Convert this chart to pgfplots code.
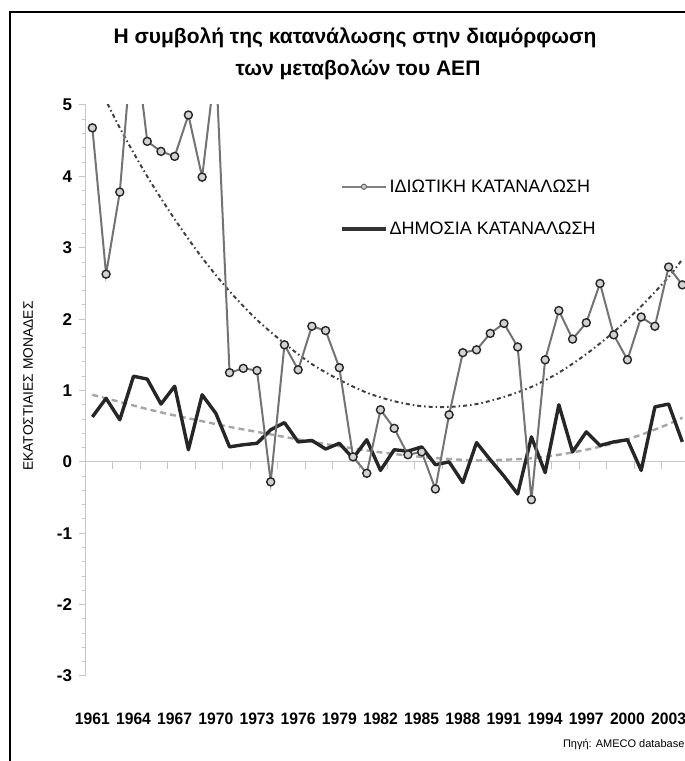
\documentclass[border=0pt]{standalone}
\usepackage{fontspec}
\setmainfont{Liberation Sans}
\newfontfamily\narrowfont{Liberation Sans}[FakeStretch=0.95]
\usepackage{pgfplots}
\usepackage{pgfplotstable}
\pgfplotsset{compat=1.18}

\pgfplotstableread{
year priv gov
1961 4.68 0.63
1962 2.63 0.89
1963 3.78 0.59
1964 6.10 1.20
1965 4.49 1.16
1966 4.35 0.81
1967 4.28 1.06
1968 4.86 0.17
1969 3.99 0.94
1970 5.60 0.68
1971 1.25 0.21
1972 1.31 0.24
1973 1.28 0.26
1974 -0.28 0.45
1975 1.64 0.55
1976 1.29 0.28
1977 1.90 0.30
1978 1.84 0.18
1979 1.32 0.26
1980 0.07 0.05
1981 -0.16 0.31
1982 0.73 -0.12
1983 0.47 0.17
1984 0.10 0.15
1985 0.14 0.21
1986 -0.38 -0.04
1987 0.66 0.00
1988 1.53 -0.29
1989 1.57 0.27
1990 1.80 0.03
1991 1.94 -0.20
1992 1.61 -0.45
1993 -0.53 0.35
1994 1.43 -0.15
1995 2.12 0.80
1996 1.72 0.14
1997 1.95 0.42
1998 2.50 0.23
1999 1.78 0.28
2000 1.43 0.31
2001 2.03 -0.12
2002 1.90 0.77
2003 2.73 0.81
2004 2.48 0.28
}\datatable

\pgfplotstableread{
year ptrend gtrend
1961 5.45 0.94
1963 4.68 0.84
1965 4.00 0.74
1967 3.40 0.65
1969 2.86 0.57
1971 2.39 0.49
1973 1.99 0.42
1975 1.66 0.35
1977 1.37 0.28
1979 1.15 0.22
1981 0.97 0.16
1983 0.85 0.11
1985 0.78 0.07
1987 0.77 0.04
1989 0.81 0.02
1991 0.91 0.03
1993 1.05 0.05
1995 1.25 0.10
1997 1.51 0.17
1999 1.82 0.26
2001 2.18 0.38
2003 2.59 0.53
2004 2.84 0.62
}\trendtable

\begin{document}
\begin{tikzpicture}[x=1pt,y=1pt]
\path[use as bounding box] (0,0) rectangle (685,761);
\draw[line width=2.6pt] (10,-5) -- (10,749) -- (700,749);

% zero line with its tick marks
\begin{axis}[at={(85.5pt,85pt)}, anchor=south west, scale only axis,
  width=603.7pt, height=571pt,
  xmin=1960.5, xmax=2004.5, ymin=-3, ymax=5,
  axis x line=middle, axis y line=none,
  axis line style={-, gray!45, line width=1.1pt},
  xtick={1962.5,1964.5,...,2004.5}, xticklabels={},
  ytick=\empty,
  tick align=outside,
  major tick length=7pt,
  x tick style={gray!45, line width=1pt},
  hide obscured x ticks=false,
]
\end{axis}

\begin{axis}[at={(85.5pt,85pt)}, anchor=south west, scale only axis,
  width=603.7pt, height=571pt,
  xmin=1960.5, xmax=2004.5, ymin=-3, ymax=5,
  axis y line*=left, axis x line*=bottom,
  x axis line style={draw=none},
  y axis line style={-, gray!45, line width=1.1pt},
  ytick={-3,...,5}, yticklabels={-3,-2,-1,0,1,2,3,4,5},
  minor y tick num=4,
  y tick style={gray!45, line width=1pt},
  tick align=outside,
  major tick length=7pt, minor tick length=4pt,
  xtick={1961,1964,...,2003},
  xticklabels={1961,1964,1967,1970,1973,1976,1979,1982,1985,1988,1991,1994,1997,2000,2003},
  x tick style={draw=none},
  xticklabel style={font=\narrowfont\bfseries\fontsize{16.5}{17}\selectfont, yshift=-26pt},
  yticklabel style={font=\bfseries\fontsize{17}{17}\selectfont, xshift=-3pt},
  legend style={draw=none, fill=none, at={(0.4216,0.873)}, anchor=north west,
    font=\fontsize{18}{18}\selectfont, row sep=24pt, inner sep=0pt,
    nodes={inner sep=2pt}},
  legend cell align=left,
  legend image code/.code={\draw[mark repeat=2,mark phase=2,#1] plot coordinates {(0pt,0pt) (22pt,0pt) (44pt,0pt)};},
]
\addplot[forget plot, draw=gray!70, line width=2.4pt, dash pattern=on 6pt off 4pt, smooth]
  table[x=year, y=gtrend] {\trendtable};
\addplot[forget plot, draw=black!75, line width=2pt, dash pattern=on 4pt off 3pt on 1.5pt off 3pt, smooth]
  table[x=year, y=ptrend] {\trendtable};
\addplot[forget plot, draw=black!85, line width=3.4pt, line join=round]
  table[x=year, y=gov] {\datatable};
\addplot[forget plot, draw=black!55, line width=2pt, mark=*,
  mark options={draw=black!85, fill=gray!35, line width=1.4pt}, mark size=4pt]
  table[x=year, y=priv] {\datatable};
\addlegendimage{draw=black!50, line width=2pt, mark=*, mark options={draw=black!60, fill=gray!40, line width=1pt}, mark size=2.6pt}
\addlegendentry{ΙΔΙΩΤΙΚΗ ΚΑΤΑΝΑΛΩΣΗ}
\addlegendimage{draw=black!80, line width=3.4pt}
\addlegendentry{ΔΗΜΟΣΙΑ ΚΑΤΑΝΑΛΩΣΗ}
\end{axis}

\node[font=\bfseries\fontsize{21}{25}\selectfont] at (355,723) {Η συμβολή της κατανάλωσης στην διαμόρφωση};
\node[font=\bfseries\fontsize{21}{25}\selectfont] at (358,691) {των μεταβολών του ΑΕΠ};
\node[rotate=90, font=\fontsize{13.8}{14}\selectfont] at (28,375) {ΕΚΑΤΟΣΤΙΑΙΕΣ ΜΟΝΑΔΕΣ};
\node[anchor=east, font=\fontsize{11}{12}\selectfont] at (688,17) {Πηγή: AMECO database};
\end{tikzpicture}
\end{document}
